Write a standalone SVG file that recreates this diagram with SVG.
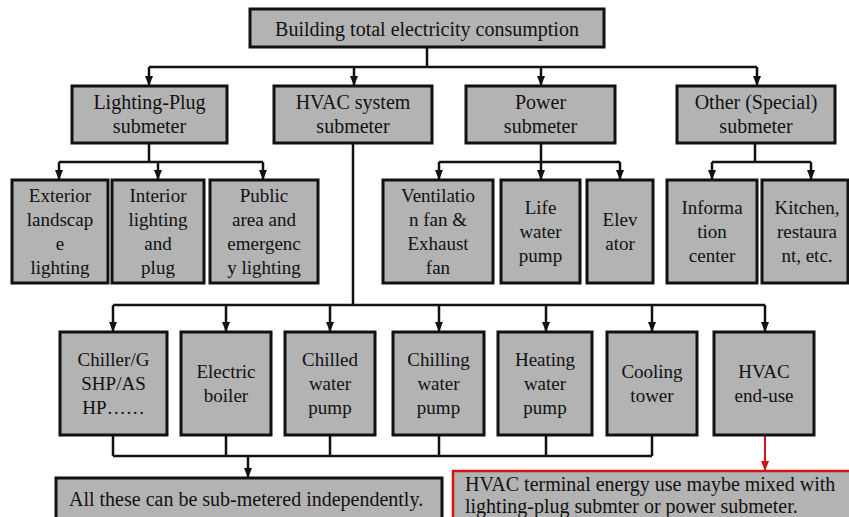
<svg xmlns="http://www.w3.org/2000/svg" width="849" height="517" viewBox="0 0 849 517" font-family="'Liberation Serif', 'Times New Roman', Times, 'DejaVu Serif', serif">
<defs>
<style>
.box{fill:#b3b3b3;stroke:#111;stroke-width:3}
.rbox{fill:#b3b3b3;stroke:#d41414;stroke-width:2.5}
.t{font-family:'Liberation Serif','Times New Roman',Times,'DejaVu Serif',serif;font-size:19px;fill:#111;text-anchor:middle}
.t20{font-size:20px}
.tl{text-anchor:start}
.c{fill:none;stroke:#111;stroke-width:2.5}
.cr{fill:none;stroke:#d41414;stroke-width:2}
</style>
<marker id="ah" markerUnits="userSpaceOnUse" viewBox="0 -5 10 10" markerWidth="10" markerHeight="10" refX="10" refY="0" orient="auto"><path d="M0,-4 L10,0 L0,4 z" fill="#111"/></marker>
<marker id="ahr" markerUnits="userSpaceOnUse" viewBox="0 -5 10 10" markerWidth="10" markerHeight="10" refX="10" refY="0" orient="auto"><path d="M0,-4 L10,0 L0,4 z" fill="#d41414"/></marker>
</defs>
<rect width="849" height="517" fill="#fff"/>
<g id="connectors">
<path class="c" d="M427,47 V67 M149,67 H757"/>
<path class="c" marker-end="url(#ah)" d="M149,67 V86"/>
<path class="c" marker-end="url(#ah)" d="M354,67 V86"/>
<path class="c" marker-end="url(#ah)" d="M541,67 V86"/>
<path class="c" marker-end="url(#ah)" d="M757,67 V86"/>
<path class="c" d="M149,143 V162 M59,162 H263"/>
<path class="c" marker-end="url(#ah)" d="M59,162 V180"/>
<path class="c" marker-end="url(#ah)" d="M158,162 V180"/>
<path class="c" marker-end="url(#ah)" d="M263,162 V180"/>
<path class="c" d="M541,143 V162 M439,162 H620"/>
<path class="c" marker-end="url(#ah)" d="M439,162 V180"/>
<path class="c" marker-end="url(#ah)" d="M541,162 V180"/>
<path class="c" marker-end="url(#ah)" d="M620,162 V180"/>
<path class="c" d="M755,143 V162 M712,162 H811"/>
<path class="c" marker-end="url(#ah)" d="M712,162 V180"/>
<path class="c" marker-end="url(#ah)" d="M811,162 V180"/>
<path class="c" d="M353,143 V305 M113,305 H765"/>
<path class="c" marker-end="url(#ah)" d="M113,305 V332"/>
<path class="c" marker-end="url(#ah)" d="M226,305 V332"/>
<path class="c" marker-end="url(#ah)" d="M330,305 V332"/>
<path class="c" marker-end="url(#ah)" d="M439,305 V332"/>
<path class="c" marker-end="url(#ah)" d="M546,305 V332"/>
<path class="c" marker-end="url(#ah)" d="M652,305 V332"/>
<path class="c" marker-end="url(#ah)" d="M765,305 V332"/>
<path class="c" d="M113,435 V456 M226,435 V456 M330,435 V456 M439,435 V456 M546,435 V456 M652,435 V456 M113,456 H652"/>
<path class="c" marker-end="url(#ah)" d="M248,456 V478"/>
<path class="cr" marker-end="url(#ahr)" d="M765,435 V471"/>
</g>
<g id="n-total"><rect class="box" x="250" y="9" width="354" height="38"/><text class="t t20" x="427" y="36">Building total electricity consumption</text></g>
<g id="n-lighting"><rect class="box" x="72" y="86" width="155" height="57"/><text class="t t20" x="149.5" y="109">Lighting-Plug</text><text class="t t20" x="149.5" y="133">submeter</text></g>
<g id="n-hvac"><rect class="box" x="274" y="86" width="158" height="57"/><text class="t t20" x="353" y="109">HVAC system</text><text class="t t20" x="353" y="133">submeter</text></g>
<g id="n-power"><rect class="box" x="466" y="86" width="149" height="57"/><text class="t t20" x="540.5" y="109">Power</text><text class="t t20" x="540.5" y="133">submeter</text></g>
<g id="n-other"><rect class="box" x="677" y="86" width="158" height="57"/><text class="t t20" x="756" y="109">Other (Special)</text><text class="t t20" x="756" y="133">submeter</text></g>
<g id="n-exterior"><rect class="box" x="12" y="180" width="96" height="103"/><text class="t" x="60" y="202">Exterior</text><text class="t" x="60" y="226">landscap</text><text class="t" x="60" y="250">e</text><text class="t" x="60" y="274">lighting</text></g>
<g id="n-interior"><rect class="box" x="112" y="180" width="92" height="103"/><text class="t" x="158" y="202">Interior</text><text class="t" x="158" y="226">lighting</text><text class="t" x="158" y="250">and</text><text class="t" x="158" y="274">plug</text></g>
<g id="n-public"><rect class="box" x="210" y="180" width="108" height="103"/><text class="t" x="264" y="202">Public</text><text class="t" x="264" y="226">area and</text><text class="t" x="264" y="250">emergenc</text><text class="t" x="264" y="274">y lighting</text></g>
<g id="n-vent"><rect class="box" x="383" y="180" width="110" height="103"/><text class="t" x="438" y="202">Ventilatio</text><text class="t" x="438" y="226">n fan &amp;</text><text class="t" x="438" y="250">Exhaust</text><text class="t" x="438" y="274">fan</text></g>
<g id="n-life"><rect class="box" x="501" y="180" width="79" height="103"/><text class="t" x="540.5" y="214">Life</text><text class="t" x="540.5" y="238">water</text><text class="t" x="540.5" y="262">pump</text></g>
<g id="n-elev"><rect class="box" x="587" y="180" width="66" height="103"/><text class="t" x="620" y="226">Elev</text><text class="t" x="620" y="250">ator</text></g>
<g id="n-info"><rect class="box" x="667" y="180" width="90" height="103"/><text class="t" x="712" y="214">Informa</text><text class="t" x="712" y="238">tion</text><text class="t" x="712" y="262">center</text></g>
<g id="n-kitchen"><rect class="box" x="762" y="180" width="86" height="103"/><text class="t" x="807" y="214">Kitchen,</text><text class="t" x="807" y="238">restaura</text><text class="t" x="807" y="262">nt, etc.</text></g>
<g id="n-chiller"><rect class="box" x="60" y="332" width="107" height="103"/><text class="t" x="113.5" y="366">Chiller/G</text><text class="t" x="113.5" y="390">SHP/AS</text><text class="t" x="113.5" y="414">HP……</text></g>
<g id="n-boiler"><rect class="box" x="181" y="332" width="90" height="103"/><text class="t" x="226" y="378">Electric</text><text class="t" x="226" y="402">boiler</text></g>
<g id="n-chilled"><rect class="box" x="285" y="332" width="90" height="103"/><text class="t" x="330" y="366">Chilled</text><text class="t" x="330" y="390">water</text><text class="t" x="330" y="414">pump</text></g>
<g id="n-chilling"><rect class="box" x="393" y="332" width="91" height="103"/><text class="t" x="438.5" y="366">Chilling</text><text class="t" x="438.5" y="390">water</text><text class="t" x="438.5" y="414">pump</text></g>
<g id="n-heating"><rect class="box" x="498" y="332" width="94" height="103"/><text class="t" x="545" y="366">Heating</text><text class="t" x="545" y="390">water</text><text class="t" x="545" y="414">pump</text></g>
<g id="n-cooling"><rect class="box" x="607" y="332" width="90" height="103"/><text class="t" x="652" y="378">Cooling</text><text class="t" x="652" y="402">tower</text></g>
<g id="n-enduse"><rect class="box" x="714" y="332" width="100" height="103"/><text class="t" x="764" y="378">HVAC</text><text class="t" x="764" y="402">end-use</text></g>
<g id="n-independent"><rect class="box" x="56" y="478" width="386" height="60"/><text class="t t20 tl" x="69" y="506">All these can be sub-metered independently.</text></g>
<g id="n-terminal"><rect class="rbox" x="453" y="471" width="410" height="60"/><text class="t t20 tl" x="465" y="491">HVAC terminal energy use maybe mixed with</text><text class="t t20 tl" x="465" y="513">lighting-plug  submter or power submeter.</text></g>
</svg>
